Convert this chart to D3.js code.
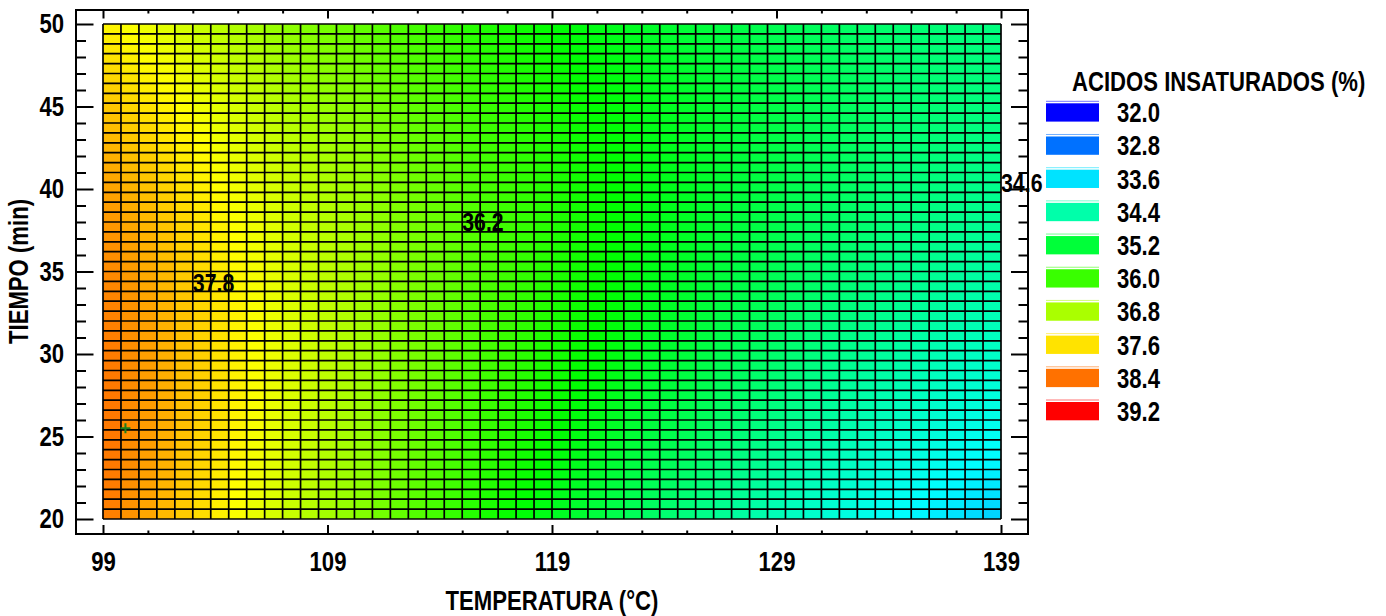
<!DOCTYPE html>
<html>
<head>
<meta charset="utf-8">
<script src="https://cdn.jsdelivr.net/npm/d3@7"></script>
<style>
  body { margin: 0; background: #fff; }
  svg text { font-family: "Liberation Sans Narrow", "Arial Narrow", "Liberation Sans", Arial, sans-serif; font-weight: bold; fill: #000; }
</style>
</head>
<body>
<svg id="chart" width="1386" height="616"></svg>
<script>
// Factor ranges and mesh resolution
const temperatureRange = [99, 139];
const timeRange = [20, 50];
const meshCells = [50, 50]; // cells along temperature, time

// Fitted second-order response model in coded units
// x = (T - 119) / 20, y = (t - 35) / 15
// terms: [intercept, x, y, x², y², x·y]
const coefficients = [35.84, -1.93, 0.10, 0.51, -0.35, 0.53];

// Colour legend levels (%)
const legendLevels = [32.0, 32.8, 33.6, 34.4, 35.2, 36.0, 36.8, 37.6, 38.4, 39.2];

// Axis ticks
const xMajorTicks = [99, 109, 119, 129, 139];
const xMinorTicks = [101, 103, 105, 107, 111, 113, 115, 117, 121, 123, 125, 127, 131, 133, 135, 137];
const yMajorTicks = [20, 25, 30, 35, 40, 45, 50];
const yMinorTicks = [21, 22, 23, 24, 26, 27, 28, 29, 31, 32, 33, 34, 36, 37, 38, 39, 41, 42, 43, 44, 46, 47, 48, 49];

// Contour labels: value and where the text starts (T, t)
const contourValues = [37.8, 36.2, 34.6];
const contourLabelTemp = [103.0, 115.0, 139.0];
const contourLabelTime = [34.3, 38.0, 40.4];

// Marked point
const markerTemp = [100.0];
const markerTime = [25.5];

const svg = d3.select("#chart");

const frame = { left: 76, top: 10, right: 1028, bottom: 534 };
const x = d3.scaleLinear().domain(temperatureRange).range([103, 1001]);
const y = d3.scaleLinear().domain(timeRange).range([519, 24]);

// value -> hue: 39.2 is red, 32.0 is blue
const hue = d3.scaleLinear().domain([legendLevels[legendLevels.length - 1], legendLevels[0]]).range([0, 240]).clamp(true);
const colour = v => d3.hsl(hue(v), 1, 0.5).toString();

function response(T, t) {
  const cx = (T - 119) / 20, cy = (t - 35) / 15;
  const [b0, b1, b2, b11, b22, b12] = coefficients;
  return b0 + b1 * cx + b2 * cy + b11 * cx * cx + b22 * cy * cy + b12 * cx * cy;
}

// Mesh nodes
const dT = (temperatureRange[1] - temperatureRange[0]) / meshCells[0];
const dt = (timeRange[1] - timeRange[0]) / meshCells[1];
const tNodes = d3.range(meshCells[0] + 1).map(i => temperatureRange[0] + i * dT);
const hNodes = d3.range(meshCells[1] + 1).map(j => timeRange[0] + j * dt);

const cells = [];
for (let i = 0; i < meshCells[0]; i++) {
  for (let j = 0; j < meshCells[1]; j++) {
    const T0 = tNodes[i], T1 = tNodes[i + 1], t0 = hNodes[j], t1 = hNodes[j + 1];
    cells.push({ T0, T1, t0, t1, v: response((T0 + T1) / 2, (t0 + t1) / 2) });
  }
}

const surface = svg.append("g");
surface.selectAll("rect").data(cells).join("rect")
  .attr("x", d => x(d.T0))
  .attr("y", d => y(d.t1))
  .attr("width", d => x(d.T1) - x(d.T0))
  .attr("height", d => y(d.t0) - y(d.t1))
  .attr("fill", d => colour(d.v))
  .attr("shape-rendering", "crispEdges");

const mesh = svg.append("g").attr("stroke", "#000").attr("stroke-width", 1.7);
mesh.selectAll("line.v").data(tNodes).join("line").attr("class", "v")
  .attr("x1", d => x(d)).attr("x2", d => x(d))
  .attr("y1", y(timeRange[0])).attr("y2", y(timeRange[1]));
mesh.selectAll("line.h").data(hNodes).join("line").attr("class", "h")
  .attr("y1", d => y(d)).attr("y2", d => y(d))
  .attr("x1", x(temperatureRange[0])).attr("x2", x(temperatureRange[1]));

// Contour labels
svg.append("g").selectAll("text").data(contourValues).join("text")
  .attr("x", (d, i) => x(contourLabelTemp[i]))
  .attr("y", (d, i) => y(contourLabelTime[i]))
  .attr("dy", "0.36em")
  .style("font-size", "26px")
  .text(d => d.toFixed(1));

// Marked point
svg.append("g").selectAll("path").data(markerTemp).join("path")
  .attr("d", (d, i) => {
    const px = x(d), py = y(markerTime[i]);
    return `M${px - 5},${py}H${px + 5}M${px},${py - 5}V${py + 5}`;
  })
  .attr("stroke", "#1c7d1c").attr("stroke-width", 2).attr("fill", "none");

// Frame
svg.append("rect")
  .attr("x", frame.left).attr("y", frame.top)
  .attr("width", frame.right - frame.left).attr("height", frame.bottom - frame.top)
  .attr("fill", "none").attr("stroke", "#000").attr("stroke-width", 2);

function styleAxis(g) {
  g.select(".domain").remove();
  g.selectAll(".tick line").attr("stroke", "#000").attr("stroke-width", 2);
  g.selectAll("text").style("font-size", "27px").attr("fill", "#000");
}

// Bottom axis
svg.append("g").attr("transform", `translate(0,${frame.bottom})`)
  .call(d3.axisBottom(x).tickValues(xMinorTicks).tickSize(-3.5).tickFormat(""))
  .call(styleAxis);
svg.append("g").attr("transform", `translate(0,${frame.bottom})`)
  .call(d3.axisBottom(x).tickValues(xMajorTicks).tickSize(-9).tickPadding(18).tickFormat(d3.format("d")))
  .call(styleAxis);
// Top axis
svg.append("g").attr("transform", `translate(0,${frame.top})`)
  .call(d3.axisTop(x).tickValues(xMinorTicks).tickSize(-3.5).tickFormat(""))
  .call(styleAxis);
svg.append("g").attr("transform", `translate(0,${frame.top})`)
  .call(d3.axisTop(x).tickValues(xMajorTicks).tickSize(-8.5).tickFormat(""))
  .call(styleAxis);
// Left axis
svg.append("g").attr("transform", `translate(${frame.left},0)`)
  .call(d3.axisLeft(y).tickValues(yMinorTicks).tickSize(-10).tickFormat(""))
  .call(styleAxis);
svg.append("g").attr("transform", `translate(${frame.left},0)`)
  .call(d3.axisLeft(y).tickValues(yMajorTicks).tickSize(-17.5).tickPadding(12).tickFormat(d3.format("d")))
  .call(styleAxis);
// Right axis
svg.append("g").attr("transform", `translate(${frame.right},0)`)
  .call(d3.axisRight(y).tickValues(yMinorTicks).tickSize(-9.5).tickFormat(""))
  .call(styleAxis);
svg.append("g").attr("transform", `translate(${frame.right},0)`)
  .call(d3.axisRight(y).tickValues(yMajorTicks).tickSize(-17).tickFormat(""))
  .call(styleAxis);

// Axis titles
svg.append("text")
  .attr("x", (x.range()[0] + x.range()[1]) / 2).attr("y", 610)
  .attr("text-anchor", "middle").style("font-size", "27px")
  .text("TEMPERATURA (°C)");
svg.append("text")
  .attr("x", 0).attr("y", 0)
  .attr("transform", `translate(28,${(y.range()[0] + y.range()[1]) / 2}) rotate(-90)`)
  .attr("text-anchor", "middle").style("font-size", "27px")
  .text("TIEMPO (min)");

// Legend
const legend = svg.append("g");
const rowY = d3.scaleLinear().domain([0, legendLevels.length - 1]).range([103.3, 402]);
legend.append("text").attr("x", 1072).attr("y", 91).style("font-size", "27px")
  .text("ACIDOS INSATURADOS (%)");
const rows = legend.selectAll("g.row").data(legendLevels).join("g").attr("class", "row")
  .attr("transform", (d, i) => `translate(0,${rowY(i)})`);
rows.append("line")
  .attr("x1", 1046).attr("x2", 1099).attr("y1", -2).attr("y2", -2)
  .attr("stroke", d => colour(d)).attr("stroke-width", 1).attr("opacity", 0.55);
rows.append("rect")
  .attr("x", 1046).attr("y", 0).attr("width", 53).attr("height", 18.3)
  .attr("fill", d => colour(d));
rows.append("text")
  .attr("x", 1117).attr("y", 9.2).attr("dy", "0.36em")
  .style("font-size", "27px")
  .text(d => d.toFixed(1));

// Condensed lettering: squeeze every label horizontally about its anchor
const squeeze = 0.82;
svg.selectAll("text").each(function () {
  const t = d3.select(this);
  const tx = +t.attr("x") || 0, ty = +t.attr("y") || 0;
  const base = t.attr("transform") || "";
  t.attr("x", 0).attr("y", 0)
   .attr("transform", `${base} translate(${tx},${ty}) scale(${squeeze},1)`);
});
</script>
</body>
</html>
